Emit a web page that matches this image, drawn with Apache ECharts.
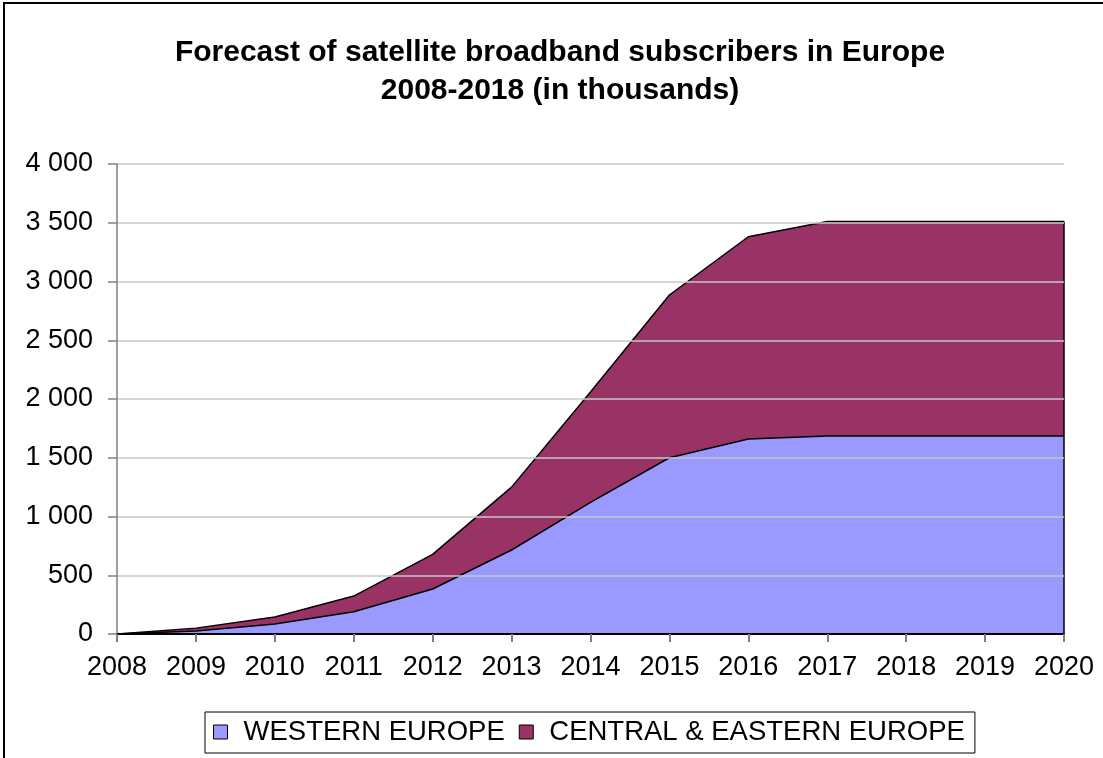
<!DOCTYPE html>
<html>
<head>
<meta charset="utf-8">
<script src="https://cdn.jsdelivr.net/npm/echarts@6/dist/echarts.min.js"></script>
<style>
  html, body { margin: 0; padding: 0; background: #fff; }
  #chart { width: 1103px; height: 758px; }
</style>
</head>
<body>
<div id="chart"></div>
<script>
// Forecast years on the category axis
const years = ['2008','2009','2010','2011','2012','2013','2014','2015','2016','2017','2018','2019','2020'];
// Subscribers, in thousands
const westernEurope = [0, 25, 85, 190, 383, 715, 1120, 1500, 1660, 1685, 1685, 1685, 1685];
const centralEasternEurope = [0, 25, 60, 133, 295, 535, 940, 1385, 1721, 1825, 1825, 1825, 1825];
const seriesNames = ['WESTERN EUROPE', 'CENTRAL & EASTERN EUROPE'];
const titleLines = ['Forecast of satellite broadband subscribers in Europe', '2008-2018 (in thousands)'];

const FONT = '"Liberation Sans", Arial, sans-serif';

// thousands separated by a space: 3500 -> "3 500"
function spaced(v) {
  return String(v).replace(/\B(?=(\d{3})+(?!\d))/g, ' ');
}

// closing edge of the stacked areas at the last year
const lastIdx = years.length - 1;
const stackTop = westernEurope[lastIdx] + centralEasternEurope[lastIdx];

const chart = echarts.init(document.getElementById('chart'));
chart.setOption({
  backgroundColor: '#ffffff',
  animation: false,
  graphic: [{
    type: 'rect',
    shape: { x: 4, y: 3, width: 1300, height: 1000 },
    style: { fill: 'none', stroke: '#000', lineWidth: 2 },
    z: 100
  }],
  title: {
    text: titleLines.join('\n'),
    left: 560,
    textAlign: 'center',
    top: 34,
    padding: 0,
    textStyle: {
      fontFamily: FONT, fontSize: 30, fontWeight: 'bold', color: '#000', lineHeight: 38
    }
  },
  legend: {
    data: seriesNames,
    left: 205,
    top: 712,
    padding: [5, 10, 6, 8],
    itemGap: 14,
    itemWidth: 14,
    itemHeight: 14,
    icon: 'rect',
    borderColor: '#000',
    borderWidth: 1,
    itemStyle: { borderColor: '#000', borderWidth: 1 },
    textStyle: { fontFamily: FONT, fontSize: 27.5, color: '#000', lineHeight: 30, padding: [0, 0, 0, 11] }
  },
  grid: { left: 117, right: 39, top: 164, bottom: 124 },
  xAxis: {
    type: 'category',
    data: years,
    boundaryGap: false,
    z: 5,
    axisLine: { lineStyle: { color: '#000', width: 2 } },
    axisTick: { show: true, length: 8, lineStyle: { color: '#808080', width: 2 } },
    axisLabel: { fontFamily: FONT, fontSize: 27, color: '#000', margin: 20 },
    splitLine: { show: false }
  },
  yAxis: {
    type: 'value',
    min: 0,
    max: 4000,
    interval: 500,
    z: 5,
    axisLine: { show: true, lineStyle: { color: '#808080', width: 1.5 } },
    axisTick: { show: true, length: 9, lineStyle: { color: '#808080', width: 1.5 } },
    axisLabel: { fontFamily: FONT, fontSize: 27, color: '#000', margin: 24, formatter: spaced },
    splitLine: { show: true, lineStyle: { color: '#c8c8c8', width: 1.5 } }
  },
  series: [
    {
      name: seriesNames[0],
      type: 'line',
      stack: 'total',
      data: westernEurope,
      showSymbol: false,
      color: '#9999ff',
      lineStyle: { color: '#000', width: 1.5 },
      areaStyle: { color: '#9999ff', opacity: 1 },
      z: 2
    },
    {
      name: seriesNames[1],
      type: 'line',
      stack: 'total',
      data: centralEasternEurope,
      showSymbol: false,
      color: '#993366',
      lineStyle: { color: '#000', width: 1.5 },
      areaStyle: { color: '#993366', opacity: 1 },
      z: 2
    },
    {
      // vertical outline closing the areas at the right edge
      type: 'line',
      data: [[years[lastIdx], 0], [years[lastIdx], stackTop]],
      showSymbol: false,
      lineStyle: { color: '#000', width: 1.5 },
      silent: true,
      z: 3
    }
  ]
});
</script>
</body>
</html>
